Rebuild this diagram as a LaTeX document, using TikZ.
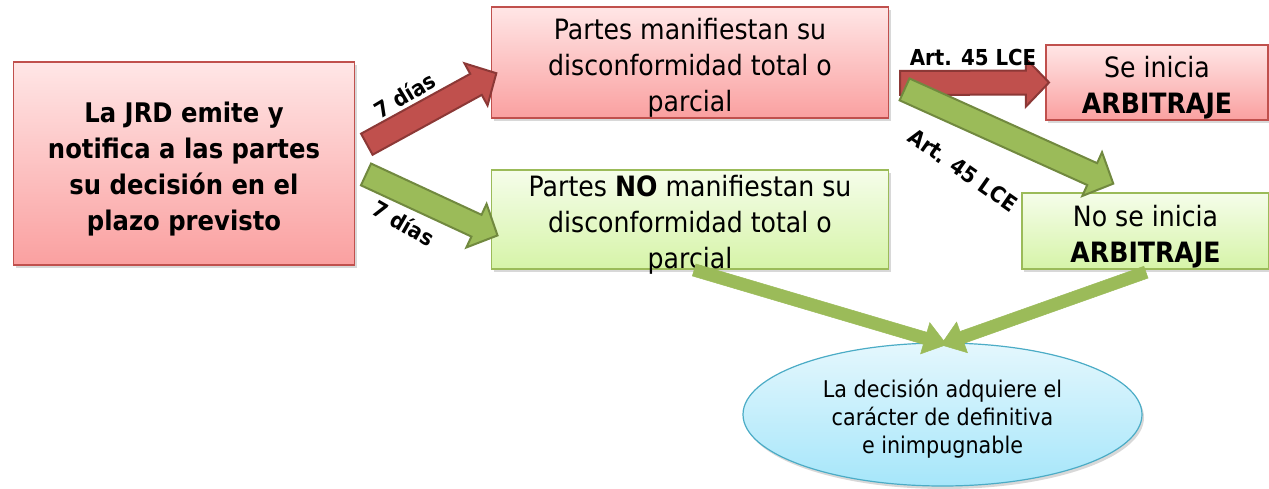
\documentclass[tikz,border=0pt]{standalone}
\usepackage{fontspec}
\setmainfont{DejaVu Sans}[FakeStretch=0.9]
\definecolor{redline}{RGB}{192,80,77}
\definecolor{redtop}{RGB}{255,230,230}
\definecolor{redbottom}{RGB}{250,160,160}
\definecolor{greenline}{RGB}{155,187,89}
\definecolor{greentop}{RGB}{245,253,234}
\definecolor{greenbottom}{RGB}{214,244,168}
\definecolor{blueline}{RGB}{75,172,198}
\definecolor{bluetop}{RGB}{228,247,253}
\definecolor{bluebottom}{RGB}{166,230,250}
\definecolor{arrowred}{RGB}{192,80,77}
\definecolor{arrowreddark}{RGB}{140,56,54}
\definecolor{arrowgreen}{RGB}{155,187,89}
\definecolor{arrowgreendark}{RGB}{113,137,63}
\usepackage{tikz}
\usetikzlibrary{shapes.arrows,shapes.geometric,positioning,calc,shadows}

% block arrow from #2 to #3
\newcommand{\blockarrow}[3]{%
  \path let \p1=(#2), \p2=(#3),
    \n1={atan2(\y2-\y1,\x2-\x1)}, \n2={veclen(\x2-\x1,\y2-\y1)} in
    node[#1, rotate=\n1, minimum height=\n2] at ($(\p1)!0.5!(\p2)$) {};}
% extra room above the first line
\newcommand{\toppad}{\rule{0pt}{1.15em}}

\begin{document}
\begin{tikzpicture}[x=1pt,y=-1pt,
    boxshadow/.style={drop shadow={opacity=0.3, shadow xshift=2pt, shadow yshift=-3pt}},
    redbox/.style={draw=redline, line width=1.5pt, top color=redtop, bottom color=redbottom, boxshadow, align=center, inner sep=0pt},
    greenbox/.style={draw=greenline, line width=1.5pt, top color=greentop, bottom color=greenbottom, boxshadow, align=center, inner sep=0pt},
    bluebox/.style={ellipse, draw=blueline, line width=1.2pt, top color=bluetop, bottom color=bluebottom, boxshadow, align=center, inner sep=0pt},
    boxtext/.style={font=\fontsize{28}{36}\selectfont},
    lbl/.style={font=\bfseries\fontsize{22}{26}\selectfont, inner sep=0pt},
    bigarrow/.style={single arrow, inner sep=0pt, inner ysep=11pt, minimum width=46pt, single arrow head extend=12pt, single arrow tip angle=92, line width=2pt},
    redarrow/.style={bigarrow, fill=arrowred, draw=arrowreddark},
    greenarrow/.style={bigarrow, fill=arrowgreen, draw=arrowgreendark},
    thinarrow/.style={single arrow, inner sep=0pt, inner ysep=6pt, minimum width=32pt, single arrow head extend=10pt, single arrow tip angle=72, fill=arrowgreen, draw=arrowgreen, line width=0.5pt}]

  % Frame
  \fill[white] (0,0) rectangle (1269,488);
  \useasboundingbox (0,0) rectangle (1269,488);

  % Boxes
  \node[redbox, minimum width=341, minimum height=203, font=\bfseries\fontsize{27}{36}\selectfont] (jrd) at (184,163.5)
    {\toppad La JRD emite y\\notifica a las partes\\su decisión en el\\plazo previsto};
  \node[redbox, boxtext, minimum width=397, minimum height=111, inner ysep=-6pt] (si) at (690,62.5)
    {\toppad Partes manifiestan su\\disconformidad total o\\parcial};
  \node[greenbox, boxtext, minimum width=397, minimum height=99, inner ysep=-6pt] (no) at (690,219.5)
    {\toppad Partes \textbf{NO} manifiestan su\\disconformidad total o\\parcial};
  \node[redbox, boxtext, minimum width=222, minimum height=75] (arbsi) at (1157,82.5)
    {\toppad Se inicia\\\textbf{ARBITRAJE}};
  \node[greenbox, boxtext, minimum width=247, minimum height=76] (arbno) at (1145.5,231)
    {\toppad No se inicia\\\textbf{ARBITRAJE}};
  \node[bluebox, minimum width=399, minimum height=143, font=\fontsize{23}{28}\selectfont] (fin) at (942.5,414.5)
    {\toppad La decisión adquiere el\\carácter de definitiva\\e inimpugnable};

  % Arrows
  \blockarrow{redarrow}{$(jrd.east)+(6.5,-16.5)$}{$(si.west)+(0.5,13.5)$}
  \blockarrow{greenarrow}{$(jrd.east)+(5.5,8.5)$}{$(no.west)+(1.5,13.5)$}
  \blockarrow{redarrow}{$(si.east)+(5,20.5)$}{$(arbsi.west)+(-2,0)$}
  \blockarrow{greenarrow}{$(si.east)+(10,24.5)$}{$(arbno.north)+(-37.5,-11)$}
  \blockarrow{thinarrow}{$(no.south)+(0,-1)$}{$(fin.north)+(0,1)$}
  \blockarrow{thinarrow}{$(arbno.south)+(4.5,1)$}{$(fin.north)+(2.5,1)$}

  % Labels
  \node[lbl, rotate=31] (dias1) at (405,95) {7 días};
  \node[lbl, rotate=-30] (dias2) at (404,223) {7 días};
  \node[lbl] (art1) at (973,57) {Art. 45 LCE};
  \node[lbl, rotate=-35] (art2) at (963,170) {Art. 45 LCE};
\end{tikzpicture}
\end{document}
